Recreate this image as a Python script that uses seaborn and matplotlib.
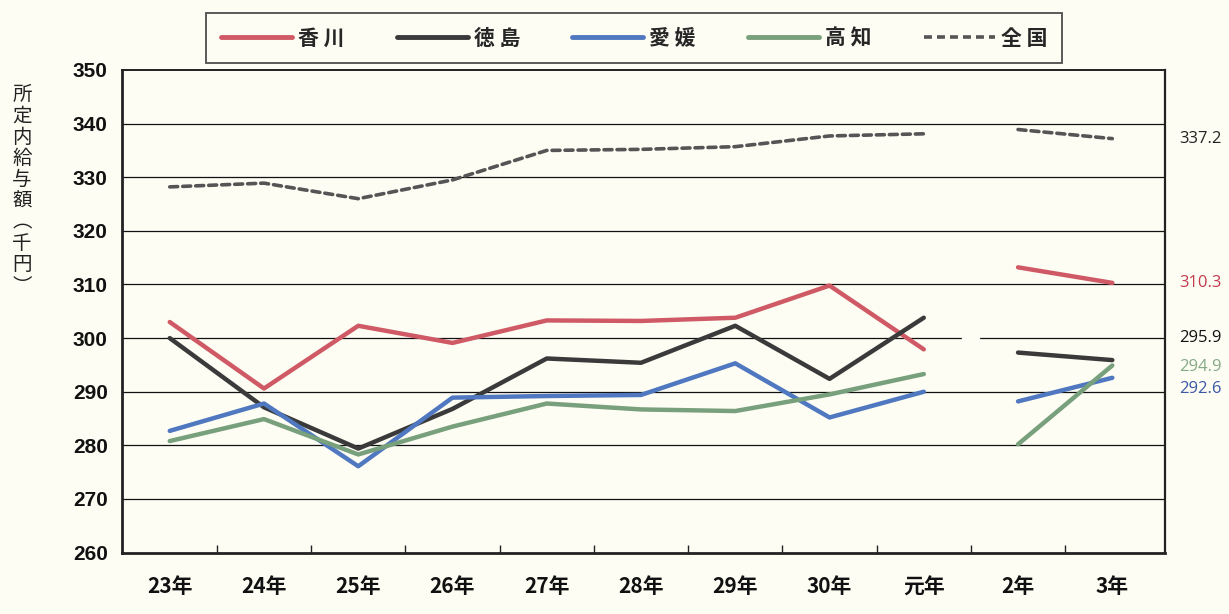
import numpy as np
import pandas as pd
import matplotlib
matplotlib.use("Agg")
import matplotlib.pyplot as plt
from matplotlib.lines import Line2D
import seaborn as sns

# data (千円); the break sits between 元年 and 2年
years = ["23年", "24年", "25年", "26年", "27年", "28年", "29年", "30年", "元年", "2年", "3年"]
kagawa = [303.0, 290.6, 302.3, 299.1, 303.3, 303.2, 303.8, 309.8, 297.9, 313.2, 310.3]
tokushima = [300.0, 287.1, 279.4, 286.8, 296.2, 295.4, 302.3, 292.4, 303.8, 297.3, 295.9]
ehime = [282.7, 287.8, 276.1, 288.9, 289.2, 289.4, 295.3, 285.2, 290.0, 288.2, 292.6]
kochi = [280.8, 284.9, 278.3, 283.5, 287.8, 286.7, 286.4, 289.5, 293.3, 280.2, 294.9]
zenkoku = [328.2, 328.9, 326.0, 329.5, 335.0, 335.2, 335.7, 337.7, 338.1, 338.9, 337.2]

regions = ["香 川", "徳 島", "愛 媛", "高 知", "全 国"]
series = [kagawa, tokushima, ehime, kochi, zenkoku]
colors = ["#cf5a66", "#3a3a3a", "#4f78c0", "#78a07c", "#555555"]
label_colors = ["#c23a4c", "#111111", "#3b57a6", "#86aa88", "#222222"]

# segment id: 0 for 23年..元年, 1 for 2年..3年
segment = [0] * 9 + [1] * 2

rows = []
for name, vals in zip(regions, series):
    for i, (yr, v) in enumerate(zip(years, vals)):
        rows.append({"region": name, "year": yr, "pos": i, "value": v, "seg": segment[i]})
df = pd.DataFrame(rows)

sns.set_theme(style="white")
plt.rcParams["font.family"] = ["Noto Sans CJK JP", "DejaVu Sans"]

bg = "#fdfdf4"
fig = plt.figure(figsize=(12.29, 6.14), dpi=100, facecolor=bg)
ax = fig.add_axes([0.099, 0.100, 0.849, 0.786], facecolor=bg)

for name, col in zip(regions, colors):
    sub = df[df["region"] == name]
    for s, part in sub.groupby("seg"):
        if name == "全 国":
            sns.lineplot(data=part, x="pos", y="value", ax=ax, color=col, lw=2.6,
                         linestyle=(0, (2.2, 1.4)), dash_capstyle="round", zorder=4)
        else:
            sns.lineplot(data=part, x="pos", y="value", ax=ax, color=col, lw=3.2,
                         solid_capstyle="round", zorder=3)

ax.set_ylim(260, 350)
ax.set_xlim(-0.51, 10.56)
ax.set_yticks(range(260, 351, 10))
for g in range(270, 350, 10):
    ax.axhline(g, color="#111111", lw=0.9, zorder=1)
# little gap in the 300 line where the series break
ax.plot([8.42, 8.58], [300, 300], color=bg, lw=2.5, zorder=2)

ax.set_xticks(range(len(years)))
ax.set_xticklabels(years, fontsize=15, fontweight="bold")
ax.set_xticks(np.arange(0.5, len(years) - 1, 1), minor=True)
ax.tick_params(axis="x", which="major", length=0, pad=17, colors="#111111")
ax.tick_params(axis="x", which="minor", direction="in", length=6, width=1, color="#222222", bottom=True)
ax.tick_params(axis="y", length=0, pad=10, colors="#111111")
for lab in ax.get_yticklabels():
    lab.set_fontfamily("Liberation Sans")
    lab.set_fontweight("bold")
    lab.set_fontsize(15)

ax.set_xlabel("")
ax.set_ylabel("")
for side, w in [("left", 2.0), ("bottom", 2.0), ("top", 1.4), ("right", 1.6)]:
    ax.spines[side].set_visible(True)
    ax.spines[side].set_color("#222222")
    ax.spines[side].set_linewidth(w)

fig.text(0.018, 0.69, "所\n定\n内\n給\n与\n額\n︵\n千\n円\n︶", ha="center", va="center",
         fontsize=14, linespacing=1.02, color="#222222")

# value labels for 3年, nudged where they would overlap
nudge = [0, 4.1, -2.0, -0.2, 0]
for vals, c, n in zip(series, label_colors, nudge):
    ax.annotate(f"{vals[-1]:.1f}", xy=(ax.get_xlim()[1], vals[-1] + n), xytext=(10, 0),
                textcoords="offset points", ha="left", va="center", fontsize=12,
                color=c, annotation_clip=False, fontfamily=["Open Sans", "DejaVu Sans"])

handles = []
for name, col in zip(regions, colors):
    if name == "全 国":
        handles.append(Line2D([], [], color=col, lw=2.6, linestyle=(0, (2.2, 1.4))))
    else:
        handles.append(Line2D([], [], color=col, lw=3.5, solid_capstyle="round"))
leg = fig.legend(handles, regions, loc="center", bbox_to_anchor=(0.516, 0.938), ncol=5,
                 frameon=True, fancybox=False, handlelength=3.4, handletextpad=0.3,
                 columnspacing=2.5, borderpad=0.7, prop={"weight": "bold", "size": 15})
leg.get_frame().set_edgecolor("#222222")
leg.get_frame().set_linewidth(1.3)
leg.get_frame().set_facecolor(bg)

fig.savefig("out.png", dpi=100, facecolor=bg)
